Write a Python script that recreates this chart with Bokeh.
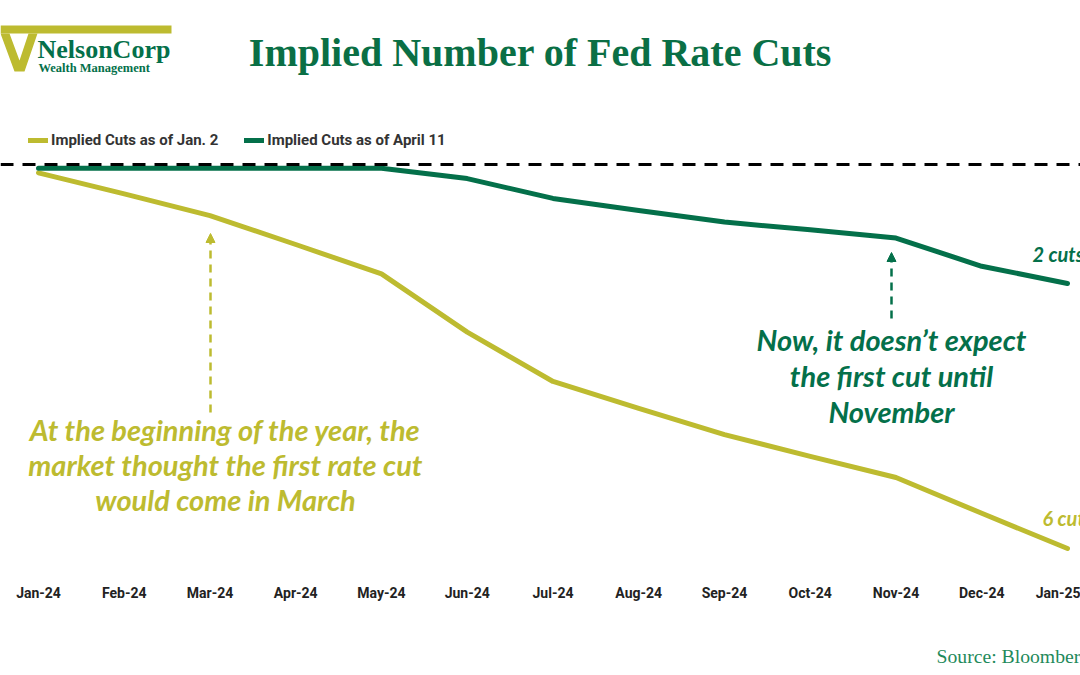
from bokeh.plotting import figure
from bokeh.models import (ColumnDataSource, FixedTicker, Span, Arrow, NormalHead,
                          Legend, LegendItem, Range1d)
from bokeh.core.properties import value
from bokeh.embed import file_html
from bokeh.resources import INLINE

# ---------------- data ----------------
months = ["Jan-24", "Feb-24", "Mar-24", "Apr-24", "May-24", "Jun-24", "Jul-24",
          "Aug-24", "Sep-24", "Oct-24", "Nov-24", "Dec-24", "Jan-25"]
cuts_jan2 = [-0.13, -0.46, -0.80, -1.25, -1.71, -2.62, -3.39, -3.81, -4.22,
             -4.56, -4.89, -5.45, -6.00]
cuts_apr11 = [-0.06, -0.06, -0.06, -0.06, -0.06, -0.22, -0.53, -0.72, -0.90,
              -1.02, -1.15, -1.59, -1.86]
series_names = ["Implied Cuts as of Jan. 2", "Implied Cuts as of April 11"]
end_labels = ["6 cuts", "2 cuts"]
title_text = "Implied Number of Fed Rate Cuts"
note_jan = ["At the beginning of the year, the",
            "market thought the first rate cut",
            "would come in March"]
note_apr = ["Now, it doesn\u2019t expect", "the first cut until", "November"]
source_text = "Source: Bloomberg"
logo_name = "NelsonCorp"
logo_sub = "Wealth Management"

# ---------------- style ----------------
YELLOW = "#BDBB30"
GREEN = "#04704A"
TITLE_GREEN = "#0A6F45"
SRC_GREEN = "#1F8A5B"
W, H = 1080, 675
AXIS_Y = 578                # px where the (invisible) axis line sits
X0, XSTEP = 38.0, 85.75     # px of first month, px per month
Y0, YSTEP = 164.0, 64.0     # px of zero line, px per cut


def dx(px):
    return (px - X0) / XSTEP


def dy(py):
    return (Y0 - py) / YSTEP


x_idx = list(range(len(months)))

p = figure(width=W, height=H, output_backend="svg", toolbar_location=None,
           x_range=Range1d(dx(0), dx(W)),
           y_range=Range1d(dy(H), dy(0)),
           y_axis_location=None, min_border_left=0, min_border_right=0,
           min_border_top=0, min_border_bottom=0)
p.outline_line_color = None
p.xgrid.visible = False
p.ygrid.visible = False
p.background_fill_color = "white"
p.border_fill_color = "white"

ax = p.xaxis[0]
ax.fixed_location = dy(AXIS_Y)
ax.ticker = FixedTicker(ticks=x_idx)
ax.major_label_overrides = {i: m for i, m in enumerate(months)}
ax.axis_line_color = None
ax.major_tick_line_color = None
ax.minor_tick_line_color = None
ax.major_tick_out = 0
ax.major_tick_in = 0
ax.major_label_standoff = 6
ax.major_label_text_font = "Roboto"
ax.major_label_text_font_style = "bold"
ax.major_label_text_font_size = "14px"
ax.major_label_text_color = "#222222"

src = ColumnDataSource(dict(x=x_idx, jan=cuts_jan2, apr=cuts_apr11))
r_jan = p.line("x", "jan", source=src, line_color=YELLOW, line_width=5,
               line_cap="round", line_join="round")
r_apr = p.line("x", "apr", source=src, line_color=GREEN, line_width=5,
               line_cap="round", line_join="round")

# zero reference line
p.add_layout(Span(location=0, dimension="width", line_color="black",
                  line_width=3, line_dash="13 9"))

# legend
legend = Legend(items=[LegendItem(label=series_names[0], renderers=[r_jan]),
                       LegendItem(label=series_names[1], renderers=[r_apr])],
                orientation="horizontal", location=(28, H - 150),
                glyph_width=20, glyph_height=20, label_height=20,
                label_standoff=3, spacing=26, padding=0, margin=0,
                border_line_color=None, background_fill_alpha=0,
                label_text_font="Roboto", label_text_font_style="bold",
                label_text_font_size="15px", label_text_color="#333333")
p.add_layout(legend)

# title
p.text(x=[dx(540)], y=[dy(52)], text=[title_text], text_font=value("Liberation Serif"),
       text_font_style="bold", text_font_size="40px", text_color=TITLE_GREEN,
       text_align="center", text_baseline="middle")

# logo
p.quad(left=[dx(0)], right=[dx(171)], top=[dy(25)], bottom=[dy(33)],
       fill_color=YELLOW, line_color=None)
vx = [0, 9, 19, 28, 37, 24, 14]
vy = [33, 33, 60, 33, 33, 71, 71]
p.patch(x=[dx(v) for v in vx], y=[dy(v) for v in vy], fill_color=YELLOW, line_color=None)
p.text(x=[dx(37)], y=[dy(49)], text=[logo_name], text_font=value("Liberation Serif"),
       text_font_style="bold", text_font_size="26px", text_color=GREEN,
       text_align="left", text_baseline="middle")
p.text(x=[dx(38)], y=[dy(67)], text=[logo_sub], text_font=value("Liberation Serif"),
       text_font_style="bold", text_font_size="12.5px", text_color=GREEN,
       text_align="left", text_baseline="middle")

# annotations
p.text(x=[dx(225)] * 3, y=[dy(429), dy(464), dy(499)], text=note_jan,
       text_font=value("Lato"), text_font_style="bold italic", text_font_size="29px",
       text_color=YELLOW, text_align="center", text_baseline="middle")
p.text(x=[dx(891)] * 3, y=[dy(339), dy(375), dy(411)], text=note_apr,
       text_font=value("Lato"), text_font_style="bold italic", text_font_size="29px",
       text_color=GREEN, text_align="center", text_baseline="middle")

p.add_layout(Arrow(x_start=dx(210), y_start=dy(412), x_end=dx(210), y_end=dy(233),
                   line_color=YELLOW, line_width=2.5, line_dash="8 6",
                   end=NormalHead(size=9, fill_color=YELLOW, line_color=YELLOW)))
p.add_layout(Arrow(x_start=dx(891), y_start=dy(318), x_end=dx(891), y_end=dy(252),
                   line_color=GREEN, line_width=2.5, line_dash="8 6",
                   end=NormalHead(size=9, fill_color=GREEN, line_color=GREEN)))

# end labels
p.text(x=[dx(1042), dx(1032)], y=[dy(517), dy(253)], text=end_labels,
       text_font=value("Lato"), text_font_style="bold italic", text_font_size="20px",
       text_color=[YELLOW, GREEN], text_align="left", text_baseline="middle")

# source
p.text(x=[dx(936)], y=[dy(655)], text=[source_text], text_font=value("Liberation Serif"),
       text_font_size="19.7px", text_color=SRC_GREEN, text_align="left",
       text_baseline="middle")

open("out.html", "w").write(file_html(p, INLINE))
